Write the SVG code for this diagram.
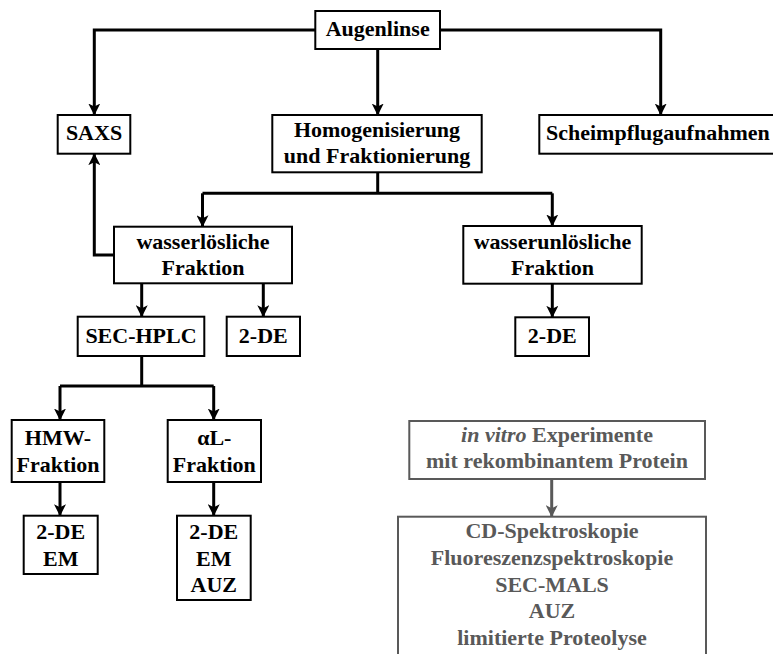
<svg xmlns="http://www.w3.org/2000/svg" width="773" height="654" viewBox="0 0 773 654">
<defs>
<style>
.box{fill:#fff;stroke:#000;stroke-width:2}
.gbox{fill:#fff;stroke:#595959;stroke-width:2}
.t{font-family:"Liberation Serif","Times New Roman",serif;font-weight:bold;font-size:22px;fill:#000;text-anchor:middle}
.gt{font-family:"Liberation Serif","Times New Roman",serif;font-weight:bold;font-size:22px;fill:#595959;text-anchor:middle}
.c{fill:none;stroke:#000;stroke-width:3}
.gc{fill:none;stroke:#595959;stroke-width:3}
</style>
<marker id="ah" markerUnits="userSpaceOnUse" markerWidth="12" markerHeight="12" viewBox="0 0 12 12" refX="11.5" refY="6" orient="auto">
<path d="M0,0 L12,6 L0,12 L3,6 Z" fill="#000"/>
</marker>
<marker id="gah" markerUnits="userSpaceOnUse" markerWidth="12" markerHeight="12" viewBox="0 0 12 12" refX="11.5" refY="6" orient="auto">
<path d="M0,0 L12,6 L0,12 L3,6 Z" fill="#595959"/>
</marker>
</defs>
<g id="connectors">
<path class="c" d="M315,30 H94.3 V115" marker-end="url(#ah)"/>
<path class="c" d="M440,30 H660.7 V115" marker-end="url(#ah)"/>
<path class="c" d="M377.7,49 V115" marker-end="url(#ah)"/>
<path class="c" d="M377.7,172 V193.3"/>
<path class="c" d="M202.5,193.3 H552.3"/>
<path class="c" d="M202.5,193.3 V226.7" marker-end="url(#ah)"/>
<path class="c" d="M552.3,193.3 V226" marker-end="url(#ah)"/>
<path class="c" d="M114,255 H94.3 V153.7" marker-end="url(#ah)"/>
<path class="c" d="M141.7,283 V316.7" marker-end="url(#ah)"/>
<path class="c" d="M263.3,283 V316.7" marker-end="url(#ah)"/>
<path class="c" d="M552.3,283.7 V317.3" marker-end="url(#ah)"/>
<path class="c" d="M141.7,356 V386"/>
<path class="c" d="M60,386 H213.7"/>
<path class="c" d="M60,386 V420" marker-end="url(#ah)"/>
<path class="c" d="M213.7,386 V420" marker-end="url(#ah)"/>
<path class="c" d="M60,482 V515.7" marker-end="url(#ah)"/>
<path class="c" d="M213.7,482 V515.7" marker-end="url(#ah)"/>
<path class="gc" d="M551.7,479 V516.7" marker-end="url(#gah)"/>
</g>
<g id="augenlinse"><rect class="box" x="315.3" y="11" width="124.7" height="38"/><text class="t" x="377.7" y="36">Augenlinse</text></g>
<g id="saxs"><rect class="box" x="57.7" y="115" width="72.6" height="38.7"/><text class="t" x="94" y="140">SAXS</text></g>
<g id="homog"><rect class="box" x="272.3" y="115" width="209.4" height="57.3"/><text class="t" x="377" y="136.5">Homogenisierung</text><text class="t" x="377" y="162.5">und Fraktionierung</text></g>
<g id="scheimpflug"><rect class="box" x="539.3" y="115" width="250" height="38.7"/><text class="t" x="546" y="140" style="text-anchor:start">Scheimpflugaufnahmen</text></g>
<g id="wasserloeslich"><rect class="box" x="114" y="226.7" width="178" height="56.6"/><text class="t" x="203" y="248.5">wasserlösliche</text><text class="t" x="203" y="274.5">Fraktion</text></g>
<g id="wasserunloeslich"><rect class="box" x="463.3" y="226" width="178.4" height="57.7"/><text class="t" x="552.5" y="248.5">wasserunlösliche</text><text class="t" x="552.5" y="274.5">Fraktion</text></g>
<g id="sechplc"><rect class="box" x="77.7" y="316.7" width="126.6" height="39.3"/><text class="t" x="141" y="342.7">SEC-HPLC</text></g>
<g id="de1"><rect class="box" x="226.7" y="316.7" width="73.3" height="39.3"/><text class="t" x="263.3" y="342.7">2-DE</text></g>
<g id="de2"><rect class="box" x="515.3" y="317.3" width="73.7" height="38.7"/><text class="t" x="552.3" y="342.7">2-DE</text></g>
<g id="hmw"><rect class="box" x="11.7" y="420" width="92.6" height="62"/><text class="t" x="58" y="445">HMW-</text><text class="t" x="58" y="471.7">Fraktion</text></g>
<g id="al"><rect class="box" x="167.7" y="420" width="93.3" height="62"/><text class="t" x="214.3" y="445">αL-</text><text class="t" x="214.3" y="471.7">Fraktion</text></g>
<g id="hmwres"><rect class="box" x="23.7" y="515.7" width="74" height="58.3"/><text class="t" x="60.7" y="539.3">2-DE</text><text class="t" x="60.7" y="566">EM</text></g>
<g id="alres"><rect class="box" x="177" y="515.7" width="73.7" height="84.3"/><text class="t" x="213.8" y="539.3">2-DE</text><text class="t" x="213.8" y="566">EM</text><text class="t" x="213.8" y="591.7">AUZ</text></g>
<g id="invitro"><rect class="gbox" x="409.3" y="421" width="295.7" height="58"/><text class="gt" x="557" y="441.7"><tspan font-style="italic">in vitro</tspan> Experimente</text><text class="gt" x="557" y="468.3">mit rekombinantem Protein</text></g>
<g id="methods"><rect class="gbox" x="398" y="516.7" width="308" height="160"/><text class="gt" x="552" y="537.7">CD-Spektroskopie</text><text class="gt" x="552" y="565">Fluoreszenzspektroskopie</text><text class="gt" x="552" y="591.7">SEC-MALS</text><text class="gt" x="552" y="618.3">AUZ</text><text class="gt" x="552" y="645">limitierte Proteolyse</text></g>
</svg>
